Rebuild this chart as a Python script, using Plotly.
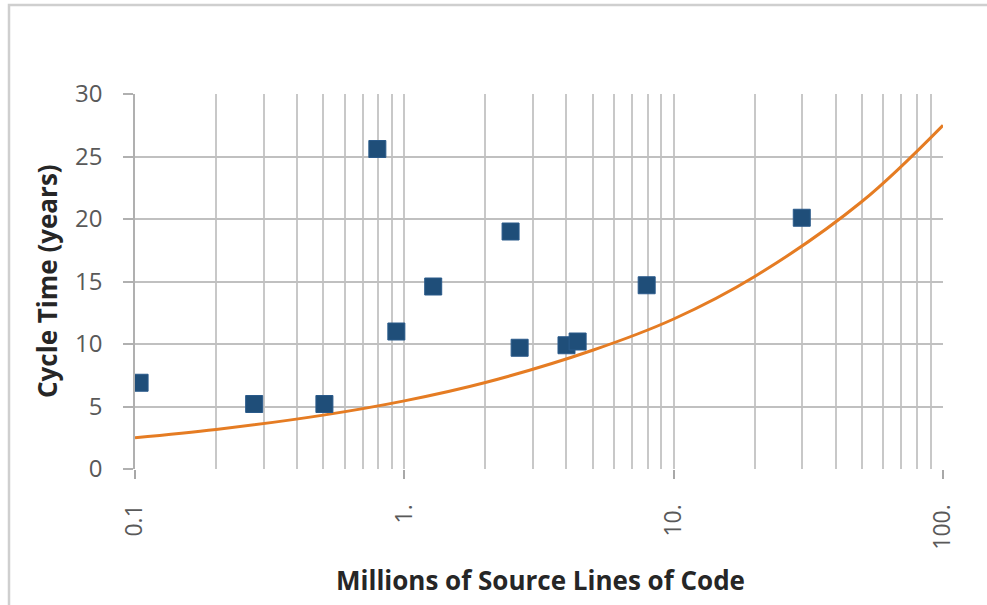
import plotly.graph_objects as go

# Data points (millions of SLOC, cycle time in years)
msloc = [0.104, 0.277, 0.505, 0.794, 0.934, 1.28, 2.48, 2.68, 4.0, 4.4, 7.94, 29.9]
cycle_years = [6.9, 5.2, 5.2, 25.6, 11.0, 14.6, 19.0, 9.7, 9.9, 10.2, 14.7, 20.1]

# Trend curve
trend_x = [0.1, 0.2, 0.5, 1, 2, 5, 10, 20, 50, 100]
trend_y = [2.5, 3.16, 4.31, 5.45, 6.92, 9.5, 12.0, 15.4, 21.4, 27.5]

x_tickvals = [0.1, 1, 10, 100]
x_ticktext = ["0.1", "1.", "10.", "100."]
y_tickvals = [0, 5, 10, 15, 20, 25, 30]

fig = go.Figure()
fig.add_trace(go.Scatter(
    x=trend_x, y=trend_y, mode="lines",
    line=dict(color="#e57c23", width=3, shape="spline", smoothing=1.0),
    hoverinfo="skip", showlegend=False,
))
fig.add_trace(go.Scatter(
    x=msloc, y=cycle_years, mode="markers",
    marker=dict(symbol="square", size=17, color="#1f4e79",
                line=dict(color="#2a5a8a", width=1)),
    showlegend=False,
))

font_family = "Open Sans, Noto Sans, sans-serif"
L, R, T, B = 135, 44, 94, 136
PW = 987 - L - R
PH = 605 - T - B

fig.update_layout(
    width=987, height=605,
    margin=dict(l=L, r=R, t=T, b=B),
    paper_bgcolor="white", plot_bgcolor="white",
    font=dict(family=font_family, color="#595959"),
    xaxis=dict(
        type="log", range=[-1, 2],
        tickvals=x_tickvals, ticktext=x_ticktext,
        tickangle=-90, tickfont=dict(size=23, color="#595959"),
        showgrid=True, gridcolor="#c8c8c8", gridwidth=1.5,
        minor=dict(showgrid=True, gridcolor="#c8c8c8", gridwidth=1.5,
                   dtick="D1", ticks=""),
        ticks="outside", ticklen=9, tickcolor="#a8a8a8", tickwidth=1.5,
        ticklabelstandoff=16,
        showline=False, zeroline=False,
        fixedrange=True,
    ),
    yaxis=dict(
        range=[0, 30], tickvals=y_tickvals,
        tickfont=dict(size=24, color="#595959"),
        showgrid=True, gridcolor="#c0c0c0", gridwidth=1.5,
        ticks="outside", ticklen=10, tickcolor="#b0b0b0", tickwidth=1.5,
        ticklabelstandoff=16,
        showline=True, linecolor="#b0b0b0", linewidth=1.5,
        zeroline=False,
        fixedrange=True,
    ),
    annotations=[
        dict(text="<b>Millions of Source Lines of Code</b>",
             xref="paper", yref="paper",
             x=(540 - L) / PW, y=-(580 - (T + PH)) / PH,
             xanchor="center", yanchor="middle", showarrow=False,
             font=dict(size=26, color="#262626")),
        dict(text="<b>Cycle Time (years)</b>",
             xref="paper", yref="paper",
             x=(47 - L) / PW, y=(T + PH - 281) / PH, textangle=-90,
             xanchor="center", yanchor="middle", showarrow=False,
             font=dict(size=26, color="#262626")),
    ],
    shapes=[
        dict(type="rect", xref="paper", yref="paper",
             x0=(9 - L) / PW, x1=(995 - L) / PW,
             y0=-(612 - (T + PH)) / PH, y1=1 + (T - 5) / PH,
             line=dict(color="#cfcfcf", width=2.5), layer="below"),
    ],
)

fig.write_html("out.html", config={"displayModeBar": False},
               post_script="document.body.style.margin='0';")
